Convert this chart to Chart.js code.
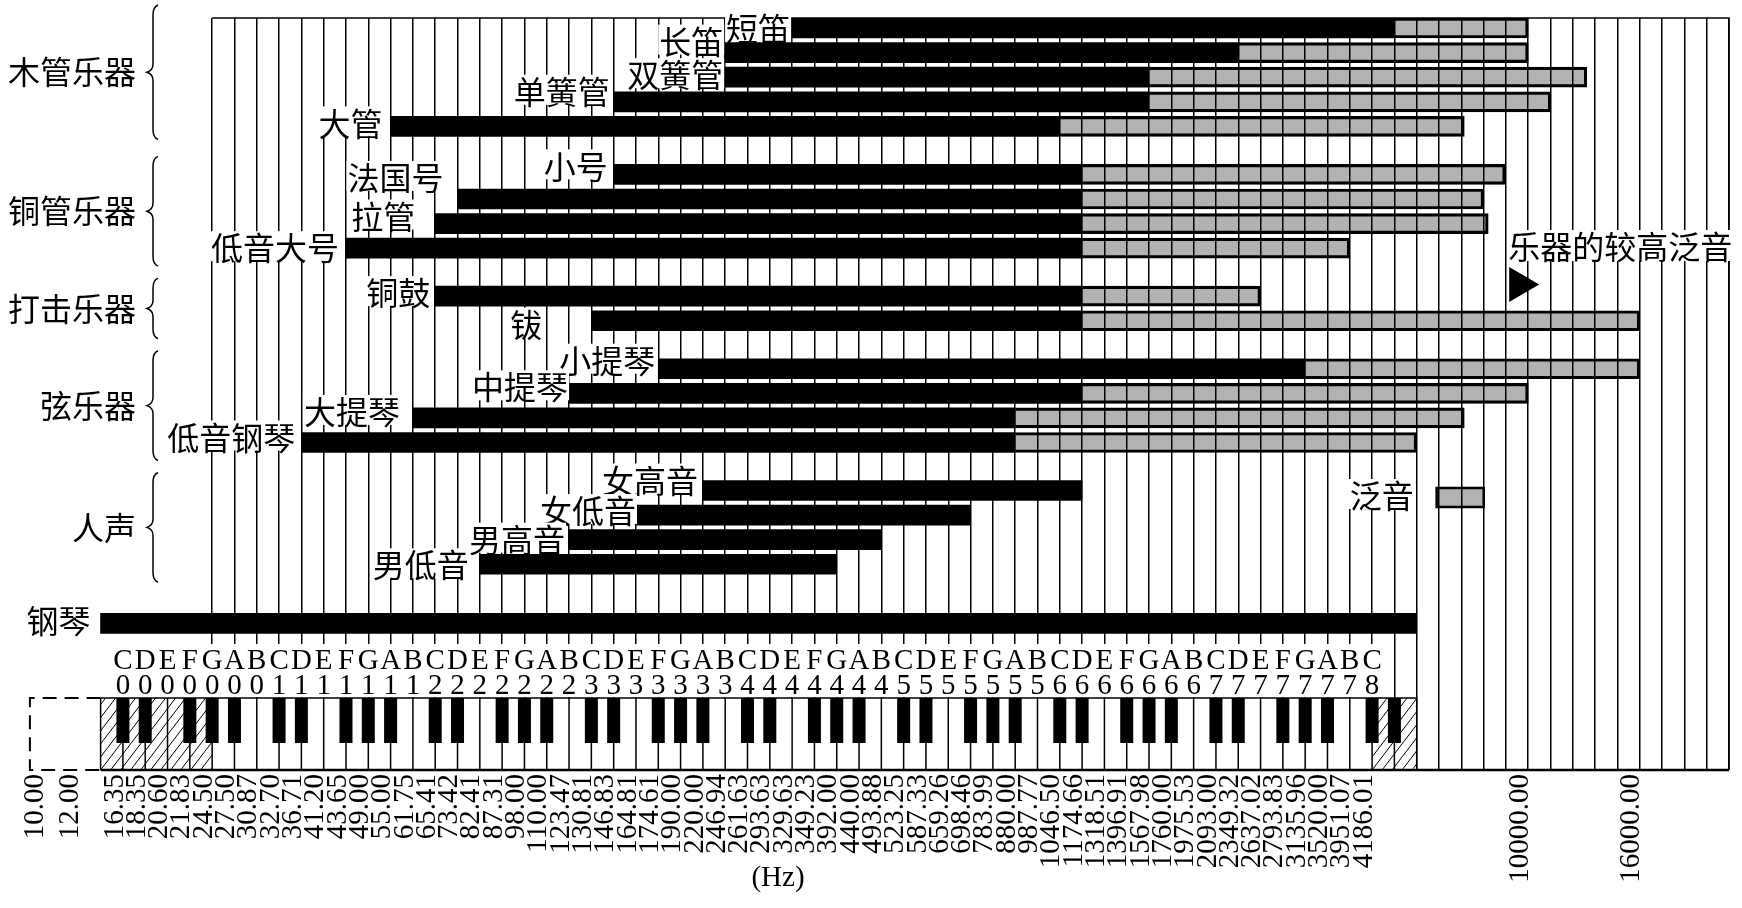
<!DOCTYPE html>
<html>
<head>
<meta charset="utf-8">
<script src="https://cdn.jsdelivr.net/npm/chart.js@4.4.0/dist/chart.umd.min.js"></script>
<style>
  html, body { margin: 0; padding: 0; background: #fff; }
</style>
</head>
<body>
<canvas id="chart" width="1742" height="908"></canvas>
<script>
// one column per white key, C0 = column 0
const noteLetters = ['C', 'D', 'E', 'F', 'G', 'A', 'B'];

// frequency labels printed under the keyboard (Hz)
const lowTickLabels = ['10.00', '12.00'];
const noteTickLabels = [
    '16.35', '18.35', '20.60', '21.83', '24.50', '27.50', '30.87',
    '32.70', '36.71', '41.20', '43.65', '49.00', '55.00', '61.75',
    '65.41', '73.42', '82.41', '87.31', '98.00', '110.00', '123.47',
    '130.81', '146.83', '164.81', '174.61', '190.00', '220.00', '246.94',
    '261.63', '293.63', '329.63', '349.23', '392.00', '440.00', '493.88',
    '523.25', '587.33', '659.26', '698.46', '783.99', '880.00', '987.77',
    '1046.50', '1174.66', '1318.51', '1396.91', '1567.98', '1760.00', '1975.53',
    '2093.00', '2349.32', '2637.02', '2793.83', '3135.96', '3520.00', '3951.07',
    '4186.01'
];
const highTickLabels = ['10000.00', '16000.00'];

const instruments = ['短笛', '长笛', '双簧管', '单簧管', '大管',
    '小号', '法国号', '拉管', '低音大号',
    '铜鼓', '钹',
    '小提琴', '中提琴', '大提琴', '低音钢琴',
    '女高音', '女低音', '男高音', '男低音',
    '钢琴'];
const groupIndex = [0, 0, 0, 0, 0, 1, 1, 1, 1, 2, 2, 3, 3, 3, 3, 4, 4, 4, 4, 5];
const groupNames = ['木管乐器', '铜管乐器', '打击乐器', '弦乐器', '人声'];

// fundamental range (black) and upper harmonics (grey), Hz
const lowHz = [329.63, 246.94, 246.94, 146.83, 55.00,
    146.83, 73.42, 65.41, 43.65,
    65.41, 130.81,
    174.61, 123.47, 61.75, 36.71,
    220.00, 164.81, 123.47, 82.41,
    14.0];
const highHz = [4740, 2349.32, 1567.98, 1567.98, 1046.50,
    1174.66, 1174.66, 1174.66, 1174.66,
    1174.66, 1174.66,
    3135.96, 1174.66, 880.00, 880.00,
    1174.66, 698.46, 493.88, 392.00,
    5370];
const overtoneHz = [10000, 10000, 12800, 11000, 7000,
    8800, 7800, 8000, 3951.07,
    2637.02, 16000,
    16000, 10000, 7000, 5370,
    null, null, null, null,
    null];
const overtoneKeyHz = [6000, 7800];

// axis layout
const lowTickCols = [-3.57, -2.0];
const highTickCols = [63, 68];
const groupGap = [0, 0.95, 1.9, 2.85, 3.8, 5.2];
const labelDx = [-2, -2, -2, -4, -8, -6, -14, -20, -7, -5, -49, -3, -1, -13, -6, -5, 0, -4, -11, -10];
const labelDy = [1, -11, -2, -10, -3, -8, -21, -7, 0, -3, 4, -8, -6, -6, -5, -10, -4, 0, 1, -2];

const cjk = '"Noto Sans CJK SC"';
const serif = '"Liberation Serif"';

const anchors = [];
lowTickLabels.forEach((l, i) => anchors.push([parseFloat(l), lowTickCols[i], l]));
noteTickLabels.forEach((l, i) => anchors.push([parseFloat(l), i, l]));
highTickLabels.forEach((l, i) => anchors.push([parseFloat(l), highTickCols[i], l]));

// piecewise log interpolation between labelled frequencies
function freqToCol(hz) {
    let k = 0;
    while (k < anchors.length - 2 && hz > anchors[k + 1][0]) k++;
    const [f0, c0] = anchors[k];
    const [f1, c1] = anchors[k + 1];
    return c0 + (c1 - c0) * Math.log(hz / f0) / Math.log(f1 / f0);
}

const rowOf = instruments.map((_, i) => i + groupGap[groupIndex[i]]);

const fundamentalData = instruments.map((_, i) => ({
    x: [freqToCol(lowHz[i]), freqToCol(highHz[i])],
    y: rowOf[i]
}));
const overtoneData = [];
instruments.forEach((_, i) => {
    if (overtoneHz[i] !== null) {
        overtoneData.push({ x: [freqToCol(highHz[i]), freqToCol(overtoneHz[i])], y: rowOf[i] });
    }
});

const gridCols = [];
for (let c = 4; c <= 72; c++) gridCols.push(c);

function drawBrace(ctx, x, top, bottom) {
    const mid = (top + bottom) / 2;
    ctx.beginPath();
    ctx.moveTo(x + 11, top);
    ctx.quadraticCurveTo(x + 6, top + 2, x + 6, top + 10);
    ctx.lineTo(x + 6, mid - 8);
    ctx.quadraticCurveTo(x + 6, mid - 2, x, mid);
    ctx.quadraticCurveTo(x + 6, mid + 2, x + 6, mid + 8);
    ctx.lineTo(x + 6, bottom - 10);
    ctx.quadraticCurveTo(x + 6, bottom - 2, x + 11, bottom);
    ctx.stroke();
}

function labelWithBackground(ctx, text, xRight, yMid) {
    const w = ctx.measureText(text).width;
    ctx.fillStyle = '#fff';
    ctx.fillRect(xRight - w - 1, yMid - 17, w + 2, 30);
    ctx.fillStyle = '#000';
    ctx.fillText(text, xRight, yMid);
}

const decorations = {
    id: 'decorations',
    afterDatasetsDraw(chart) {
        const ctx = chart.ctx;
        const area = chart.chartArea;
        const xs = chart.scales.x;
        const ys = chart.scales.y;
        const px = c => xs.getPixelForValue(c);
        const py = r => ys.getPixelForValue(r);
        ctx.save();
        ctx.strokeStyle = '#000';
        ctx.fillStyle = '#000';

        // frame
        ctx.lineWidth = 1.5;
        ctx.beginPath();
        ctx.moveTo(px(4), area.top);
        ctx.lineTo(area.right, area.top);
        ctx.lineTo(area.right, area.bottom);
        ctx.stroke();

        // keyboard spans the piano bar
        const pianoIdx = instruments.length - 1;
        const kLo = Math.round(freqToCol(lowHz[pianoIdx]));
        const kHi = Math.round(freqToCol(highHz[pianoIdx]));
        const lastNote = noteTickLabels.length - 1;
        const kbBottom = area.bottom;
        const kbTop = kbBottom - 72;
        const kbLeft = px(kLo);
        const kbRight = px(kHi);

        ctx.fillStyle = '#fff';
        ctx.fillRect(kbLeft, kbTop, kbRight - kbLeft, kbBottom - kbTop);
        ctx.fillRect(kbLeft, kbTop - 54, px(lastNote) + 11 - kbLeft, 53);

        // hatched keys outside the real piano range
        const hatch = (x0, x1) => {
            ctx.save();
            ctx.beginPath();
            ctx.rect(x0, kbTop, x1 - x0, kbBottom - kbTop);
            ctx.clip();
            ctx.lineWidth = 1;
            ctx.beginPath();
            for (let x = x0 - 70; x < x1 + 10; x += 10) {
                ctx.moveTo(x, kbBottom);
                ctx.lineTo(x + 55, kbTop);
            }
            ctx.stroke();
            ctx.restore();
        };
        hatch(kbLeft, px(4));
        hatch(px(lastNote), kbRight);

        ctx.lineWidth = 1.5;
        ctx.beginPath();
        for (let c = kLo; c <= kHi; c++) {
            ctx.moveTo(px(c), kbTop);
            ctx.lineTo(px(c), kbBottom);
        }
        ctx.moveTo(kbLeft, kbTop);
        ctx.lineTo(kbRight, kbTop);
        ctx.stroke();

        ctx.lineWidth = 2.5;
        ctx.beginPath();
        ctx.moveTo(kbLeft, kbBottom);
        ctx.lineTo(area.right, kbBottom);
        ctx.stroke();

        ctx.fillStyle = '#000';
        for (let c = 0; c < kHi; c++) {
            if ([0, 1, 3, 4, 5].includes(c % 7)) {
                ctx.fillRect(px(c) - 6.5, kbTop, 13, 45);
            }
        }

        // dashed part below 16 Hz
        ctx.lineWidth = 2;
        ctx.setLineDash([14, 8]);
        ctx.beginPath();
        ctx.moveTo(kbLeft, kbTop);
        ctx.lineTo(px(-4.17), kbTop);
        ctx.lineTo(px(-4.17), kbBottom);
        ctx.lineTo(kbLeft, kbBottom);
        ctx.stroke();
        ctx.setLineDash([]);

        // note names
        ctx.font = '29px ' + serif;
        ctx.textAlign = 'center';
        ctx.textBaseline = 'middle';
        for (let c = 0; c <= lastNote; c++) {
            ctx.fillText(noteLetters[c % 7], px(c), kbTop - 37);
            ctx.fillText(String(Math.floor(c / 7)), px(c), kbTop - 12);
        }

        // frequency labels, rotated
        ctx.font = '29px ' + serif;
        ctx.textAlign = 'right';
        anchors.forEach(([, col, text]) => {
            ctx.save();
            ctx.translate(px(col) - 8, kbBottom + 4);
            ctx.rotate(-Math.PI / 2);
            ctx.fillText(text, 0, 0);
            ctx.restore();
        });
        ctx.textAlign = 'center';
        ctx.font = '29px ' + serif;
        ctx.fillText('(Hz)', 778, 878);

        // instrument labels
        ctx.font = '32px ' + cjk;
        ctx.textAlign = 'right';
        instruments.forEach((name, i) => {
            const x = px(freqToCol(lowHz[i])) + labelDx[i];
            labelWithBackground(ctx, name, x, py(rowOf[i]) + labelDy[i]);
        });

        // group labels and braces
        ctx.lineWidth = 1.5;
        groupNames.forEach((g, gi) => {
            const rows = rowOf.filter((_, i) => groupIndex[i] === gi);
            const y0 = py(rows[0]);
            const y1 = py(rows[rows.length - 1]);
            const mid = (y0 + y1) / 2 + (gi === 0 ? -5 : 0);
            const half = (y1 - y0) / 2 + 18;
            ctx.fillStyle = '#000';
            ctx.fillText(g, area.left + 109, mid);
            drawBrace(ctx, area.left + 120, mid - half, mid + half);
        });

        // key for the grey harmonics
        const k0 = px(freqToCol(overtoneKeyHz[0]));
        const k1 = px(freqToCol(overtoneKeyHz[1]));
        ctx.fillStyle = 'rgba(0,0,0,0.3)';
        ctx.fillRect(k0, 488, k1 - k0, 19);
        ctx.lineWidth = 2.5;
        ctx.strokeRect(k0, 488, k1 - k0, 19);
        ctx.fillStyle = '#000';
        labelWithBackground(ctx, '泛音', k0 - 23, 496);

        // note on the higher harmonics
        const ax = px(62.1);
        ctx.textAlign = 'left';
        const aw = ctx.measureText('乐器的较高泛音').width;
        ctx.fillStyle = '#fff';
        ctx.fillRect(ax - 1, 230, aw + 2, 31);
        ctx.fillStyle = '#000';
        ctx.fillText('乐器的较高泛音', ax, 247);
        ctx.beginPath();
        ctx.moveTo(ax + 1, 267);
        ctx.lineTo(ax + 1, 302);
        ctx.lineTo(ax + 31, 284.5);
        ctx.closePath();
        ctx.fill();

        ctx.restore();
    }
};

new Chart(document.getElementById('chart'), {
    type: 'bar',
    data: {
        datasets: [
            {
                label: '基音',
                data: fundamentalData,
                backgroundColor: '#000',
                borderWidth: 0,
                barThickness: 20,
                grouped: false
            },
            {
                label: '泛音',
                data: overtoneData,
                backgroundColor: 'rgba(0,0,0,0.3)',
                borderColor: '#000',
                borderWidth: 2.5,
                borderSkipped: 'start',
                barThickness: 20,
                grouped: false
            }
        ]
    },
    options: {
        indexAxis: 'y',
        responsive: false,
        devicePixelRatio: 1,
        animation: false,
        layout: { padding: { left: 27, right: 13, top: 18, bottom: 138 } },
        scales: {
            x: {
                type: 'linear',
                min: -4.3,
                max: 72,
                offset: false,
                afterBuildTicks: scale => { scale.ticks = gridCols.map(v => ({ value: v })); },
                grid: { color: '#000', lineWidth: 1.5, drawTicks: false, offset: false },
                border: { display: false },
                ticks: { display: false }
            },
            y: {
                type: 'linear',
                reverse: true,
                min: -0.4065,
                max: 30.163,
                offset: false,
                grid: { offset: false },
                display: false
            }
        },
        plugins: {
            legend: { display: false },
            tooltip: { enabled: false }
        }
    },
    plugins: [decorations]
});
</script>
</body>
</html>
